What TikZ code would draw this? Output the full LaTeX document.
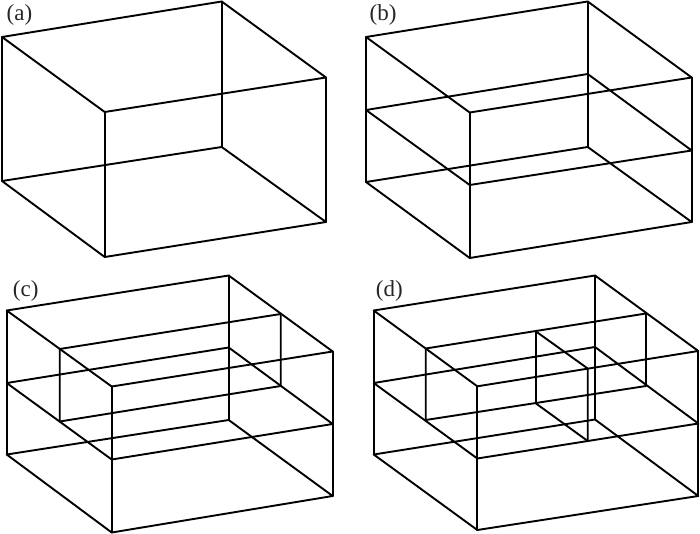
\documentclass[tikz,border=0pt]{standalone}
\usepackage{fontspec}
\setmainfont{Liberation Serif}
\tikzset{
  edge/.style={draw=black, line width=1.9pt, line cap=round, line join=round},
  panellabel/.style={anchor=base west, inner sep=0pt, font=\fontsize{23}{26}\selectfont, text=black!85}
}
\begin{document}
\begin{tikzpicture}[x=1pt,y=-1pt]
\useasboundingbox[fill=white] (0,0) rectangle (700,534);
% (a)
\coordinate (aLT) at (2,37); \coordinate (aBT) at (221.7,1.5); \coordinate (aRT) at (326,77.5); \coordinate (aFT) at (104.7,112);
\coordinate (aLB) at (2,181); \coordinate (aBB) at (221.7,147); \coordinate (aRB) at (326,222); \coordinate (aFB) at (104.7,257);
\draw[edge] (aLT)--(aBT)--(aRT)--(aFT)--cycle;
\draw[edge] (aLB)--(aBB)--(aRB)--(aFB)--cycle;
\draw[edge] (aLT)--(aLB) (aBT)--(aBB) (aRT)--(aRB) (aFT)--(aFB);
\node[panellabel] (la) at (6.5,20.5) {(a)};
% (b)
\coordinate (bLT) at (366,37); \coordinate (bBT) at (587.7,1.5); \coordinate (bRT) at (691.7,77.5); \coordinate (bFT) at (469.7,112.5);
\coordinate (bLM) at (366,110); \coordinate (bBM) at (587.7,74); \coordinate (bRM) at (691.7,150.5); \coordinate (bFM) at (469.7,185);
\coordinate (bLB) at (366,182); \coordinate (bBB) at (587.7,147); \coordinate (bRB) at (691.7,222); \coordinate (bFB) at (469.7,258);
\draw[edge] (bLT)--(bBT)--(bRT)--(bFT)--cycle;
\draw[edge] (bLM)--(bBM)--(bRM)--(bFM)--cycle;
\draw[edge] (bLB)--(bBB)--(bRB)--(bFB)--cycle;
\draw[edge] (bLT)--(bLB) (bBT)--(bBB) (bRT)--(bRB) (bFT)--(bFB);
\node[panellabel] (lb) at (369.5,20.5) {(b)};
% (c)
\coordinate (cLT) at (6.7,310.5); \coordinate (cBT) at (228.7,275.5); \coordinate (cRT) at (332.7,351.5); \coordinate (cFT) at (111.7,386.5);
\coordinate (cLM) at (6.7,383); \coordinate (cBM) at (228.7,347.5); \coordinate (cRM) at (332.7,424); \coordinate (cFM) at (111.7,459.5);
\coordinate (cLB) at (6.7,454.5); \coordinate (cBB) at (228.7,420); \coordinate (cRB) at (332.7,496); \coordinate (cFB) at (111.7,532.5);
\coordinate (cIa) at (59.7,349); \coordinate (cIb) at (280.7,314); \coordinate (cIc) at (59.7,421.5); \coordinate (cId) at (280.7,386);
\draw[edge] (cLT)--(cBT)--(cRT)--(cFT)--cycle;
\draw[edge] (cLM)--(cBM)--(cRM)--(cFM)--cycle;
\draw[edge] (cLB)--(cBB)--(cRB)--(cFB)--cycle;
\draw[edge] (cLT)--(cLB) (cBT)--(cBB) (cRT)--(cRB) (cFT)--(cFB);
\draw[edge] (cIa)--(cIb)--(cId)--(cIc)--cycle;
\node[panellabel] (lc) at (12.7,296) {(c)};
% (d)
\coordinate (dLT) at (373.7,310.5); \coordinate (dBT) at (595,275.5); \coordinate (dRT) at (698.3,351); \coordinate (dFT) at (477.3,386.3);
\coordinate (dLM) at (373.7,383); \coordinate (dBM) at (595,347); \coordinate (dRM) at (698.3,423.5); \coordinate (dFM) at (477.3,458.5);
\coordinate (dLB) at (373.7,454.5); \coordinate (dBB) at (595,419.5); \coordinate (dRB) at (698.3,496); \coordinate (dFB) at (477.3,530);
\coordinate (dIa) at (425.7,348.5); \coordinate (dIb) at (646,313.5); \coordinate (dIc) at (425.7,420); \coordinate (dId) at (646,386);
\coordinate (dJa) at (536,331.5); \coordinate (dJb) at (587.7,368.5); \coordinate (dJc) at (536,403.5); \coordinate (dJd) at (587.7,441);
\draw[edge] (dLT)--(dBT)--(dRT)--(dFT)--cycle;
\draw[edge] (dLM)--(dBM)--(dRM)--(dFM)--cycle;
\draw[edge] (dLB)--(dBB)--(dRB)--(dFB)--cycle;
\draw[edge] (dLT)--(dLB) (dBT)--(dBB) (dRT)--(dRB) (dFT)--(dFB);
\draw[edge] (dIa)--(dIb)--(dId)--(dIc)--cycle;
\draw[edge] (dJa)--(dJb)--(dJd)--(dJc)--cycle;
\node[panellabel] (ld) at (375.7,296) {(d)};
\end{tikzpicture}
\end{document}
